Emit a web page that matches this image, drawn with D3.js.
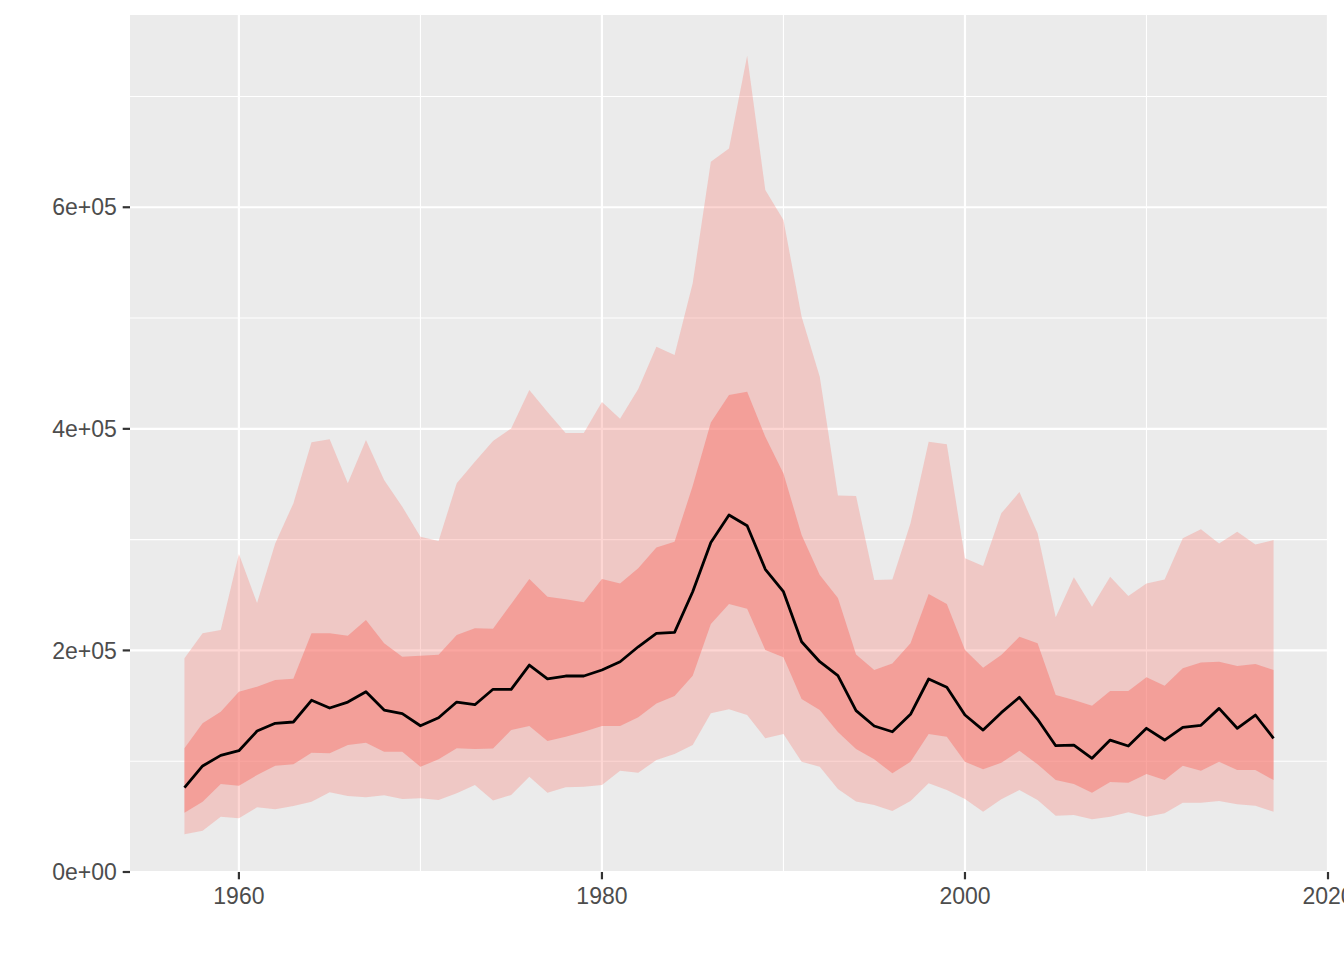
<!DOCTYPE html>
<html>
<head>
<meta charset="utf-8">
<script src="https://cdn.jsdelivr.net/npm/d3@7"></script>
<style>
html, body { margin: 0; padding: 0; background: #ffffff; }
svg { display: block; }
</style>
</head>
<body>
<svg id="chart" width="1344" height="960"></svg>
<script>
// ---- data (values in units) ----
const years = d3.range(1957, 2018);

const median = [76.1,95.7,105.3,109.5,127.2,134.2,135.4,155.0,148.0,153.4,162.7,146.2,142.9,132.0,139.2,153.4,151.0,164.9,164.9,186.8,
  174.4,176.9,176.9,182.3,189.8,203.3,215.4,216.3,253.0,297.5,322.2,312.5,273.2,253.0,207.8,189.8,177.2,145.7,131.8,126.6,
  142.3,174.2,166.7,141.7,128.1,143.8,157.7,137.8,114.0,114.6,102.6,119.1,113.7,129.7,119.1,130.6,132.4,147.7,129.7,141.7,120.7]
  .map(v => v * 1000);

const innerUpper = [111.6,134.2,144.7,162.7,167.2,173.3,174.4,215.4,215.4,213.2,227.4,206.4,194.3,195.2,196.1,213.9,219.9,219.6,241.9,264.4,
  248.4,246.1,243.4,264.4,260.5,274.1,293.0,298.1,348.3,405.8,430.5,433.4,392.8,359.8,304.1,268.0,247.3,196.3,182.3,188.3,
  206.4,250.9,241.9,200.3,184.4,195.8,212.3,206.4,159.7,155.2,150.1,163.3,163.3,175.7,168.1,183.8,189.2,189.8,185.9,187.7,182.3]
  .map(v => v * 1000);

const innerLower = [53.5,63.4,79.4,77.9,87.5,95.9,97.2,107.7,107.1,114.6,116.7,108.6,108.6,95.0,101.7,111.6,111.0,111.5,128.1,131.8,
  118.2,122.1,126.6,131.8,131.8,139.6,152.2,158.8,177.2,223.8,241.9,237.6,200.3,193.8,156.1,146.2,126.3,111.0,101.7,89.1,
  99.5,124.5,122.1,99.5,92.7,98.6,109.5,97.2,83.0,79.4,71.6,81.2,80.6,88.4,83.0,95.9,91.4,99.5,92.0,92.0,83.0]
  .map(v => v * 1000);

const outerUpper = [192.9,215.4,218.4,287.0,242.8,296.6,332.7,387.8,390.5,350.8,389.9,353.8,329.7,302.6,298.7,350.8,370.3,389.0,400.4,435.0,
  415.1,396.2,396.2,424.2,409.1,435.9,474.1,466.6,531.3,641.0,653.1,736.7,615.5,588.4,501.1,447.0,339.8,339.3,263.5,264.1,
  314.7,388.3,386.2,283.1,276.1,323.7,342.9,305.7,229.9,266.0,239.4,266.5,249.1,260.5,264.1,301.2,309.3,296.6,307.1,295.7,299.6]
  .map(v => v * 1000);

const outerLower = [34.0,37.3,49.9,48.5,58.4,56.6,59.6,63.4,71.9,68.6,67.4,69.2,65.9,66.5,65.0,71.0,78.5,64.5,69.5,86.0,
  71.6,76.4,77.0,78.5,91.4,89.6,101.1,106.5,114.6,143.2,146.8,141.7,120.7,124.5,99.5,95.0,74.9,63.6,60.5,55.0,
  64.1,80.0,74.0,65.9,54.4,65.6,74.0,65.0,50.8,51.4,47.6,49.9,53.9,49.9,53.0,62.5,62.5,64.1,61.1,59.8,54.4]
  .map(v => v * 1000);

const xTicks = [1960, 1980, 2000, 2020];
const xMinorTicks = [1970, 1990, 2010];
const yTicks = [0, 200000, 400000, 600000];
const yTickLabels = ["0e+00", "2e+05", "4e+05", "6e+05"];
const yMinorTicks = [100000, 300000, 500000, 700000];

// ---- layout ----
const panel = { left: 130, right: 1328, top: 15, bottom: 872 };
const svg = d3.select("#chart");

const xSpan = d3.max(years) - d3.min(years);
const x = d3.scaleLinear()
  .domain([d3.min(years) - xSpan * 0.05, d3.max(years) + xSpan * 0.05])
  .range([panel.left, panel.right]);
const y = d3.scaleLinear()
  .domain([0, d3.max(outerUpper) * 1.05])
  .range([panel.bottom, panel.top]);

// panel background
svg.append("rect")
  .attr("x", panel.left).attr("y", panel.top)
  .attr("width", panel.right - panel.left).attr("height", panel.bottom - panel.top)
  .attr("fill", "#EBEBEB");

const grid = svg.append("g");
// minor grid
grid.selectAll("line.ymin").data(yMinorTicks).join("line")
  .attr("x1", panel.left).attr("x2", panel.right)
  .attr("y1", d => y(d)).attr("y2", d => y(d))
  .attr("stroke", "#ffffff").attr("stroke-width", 1.1);
grid.selectAll("line.xmin").data(xMinorTicks).join("line")
  .attr("y1", panel.top).attr("y2", panel.bottom)
  .attr("x1", d => x(d)).attr("x2", d => x(d))
  .attr("stroke", "#ffffff").attr("stroke-width", 1.1);
// major grid
grid.selectAll("line.ymaj").data(yTicks).join("line")
  .attr("x1", panel.left).attr("x2", panel.right)
  .attr("y1", d => y(d)).attr("y2", d => y(d))
  .attr("stroke", "#ffffff").attr("stroke-width", 2.2);
grid.selectAll("line.xmaj").data(xTicks).join("line")
  .attr("y1", panel.top).attr("y2", panel.bottom)
  .attr("x1", d => x(d)).attr("x2", d => x(d))
  .attr("stroke", "#ffffff").attr("stroke-width", 2.2);

// ribbons
const clip = svg.append("clipPath").attr("id", "pclip").append("rect")
  .attr("x", panel.left).attr("y", panel.top)
  .attr("width", panel.right - panel.left).attr("height", panel.bottom - panel.top);
const plot = svg.append("g").attr("clip-path", "url(#pclip)");

const outerData = years.map((yr, i) => ({ yr, lo: outerLower[i], hi: outerUpper[i] }));
const innerData = years.map((yr, i) => ({ yr, lo: innerLower[i], hi: innerUpper[i] }));
const area = d3.area().x(d => x(d.yr)).y0(d => y(d.lo)).y1(d => y(d.hi));

plot.append("path").datum(outerData).attr("d", area)
  .attr("fill", "#F8766D").attr("fill-opacity", 0.3);
plot.append("path").datum(innerData).attr("d", area)
  .attr("fill", "#F8766D").attr("fill-opacity", 0.5);

const line = d3.line().x((d, i) => x(years[i])).y(d => y(d));
plot.append("path").datum(median).attr("d", line)
  .attr("fill", "none").attr("stroke", "#000000").attr("stroke-width", 2.8)
  .attr("stroke-linejoin", "round");

// axes
const font = "'Liberation Sans', Arial, Helvetica, sans-serif";
const yAxis = svg.append("g");
yAxis.selectAll("line").data(yTicks).join("line")
  .attr("x1", panel.left - 7.3).attr("x2", panel.left)
  .attr("y1", d => y(d)).attr("y2", d => y(d))
  .attr("stroke", "#333333").attr("stroke-width", 2.2);
yAxis.selectAll("text").data(yTicks).join("text")
  .attr("x", panel.left - 7.3 - 5.9)
  .attr("y", d => y(d) + 8.2)
  .attr("text-anchor", "end")
  .attr("font-family", font).attr("font-size", 23)
  .attr("fill", "#4D4D4D")
  .text((d, i) => yTickLabels[i]);

const xAxis = svg.append("g");
xAxis.selectAll("line").data(xTicks).join("line")
  .attr("y1", panel.bottom).attr("y2", panel.bottom + 7.3)
  .attr("x1", d => x(d)).attr("x2", d => x(d))
  .attr("stroke", "#333333").attr("stroke-width", 2.2);
xAxis.selectAll("text").data(xTicks).join("text")
  .attr("x", d => x(d))
  .attr("y", 904.3)
  .attr("text-anchor", "middle")
  .attr("font-family", font).attr("font-size", 23)
  .attr("fill", "#4D4D4D")
  .text(d => d);
</script>
</body>
</html>
